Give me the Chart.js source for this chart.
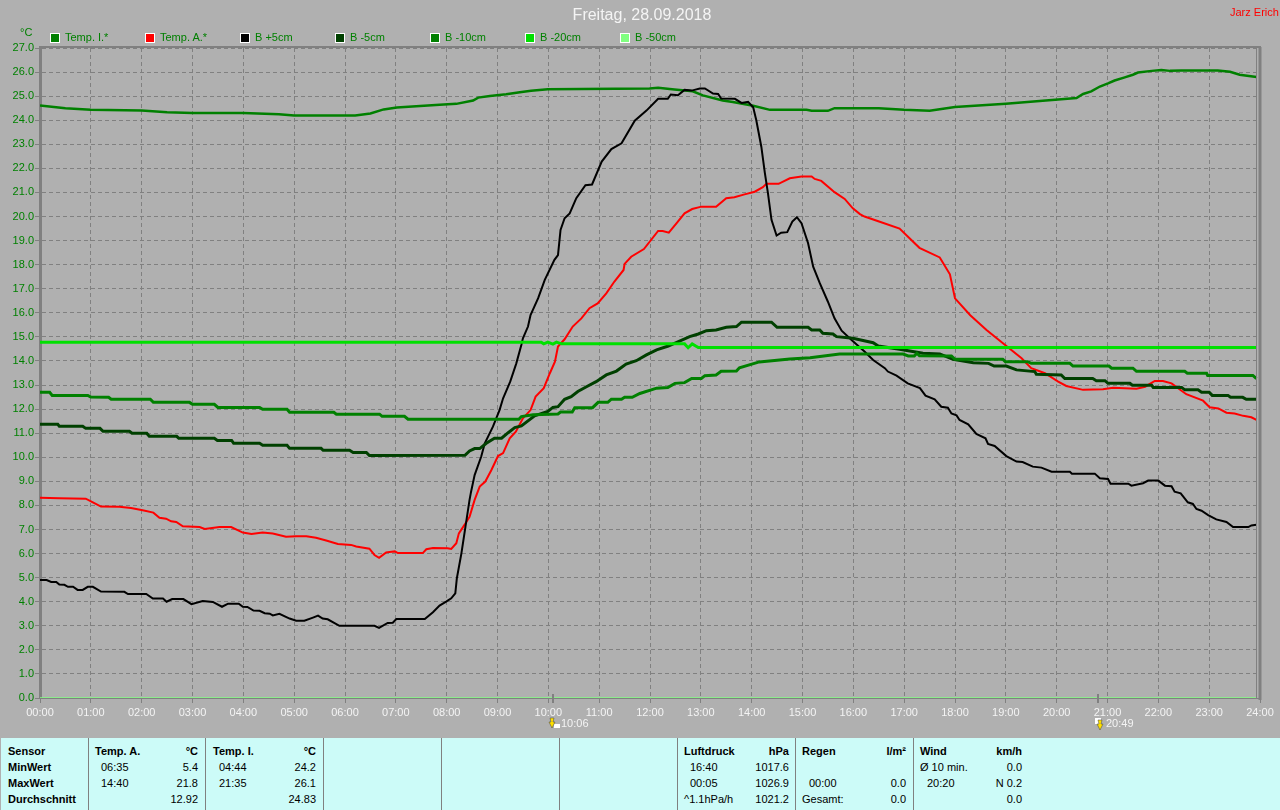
<!DOCTYPE html>
<html lang="de">
<head>
<meta charset="UTF-8">
<title>Freitag, 28.09.2018</title>
<script src="https://cdn.jsdelivr.net/npm/chart.js"></script>
<style>
  body { margin: 0; width: 1280px; height: 810px; overflow: hidden; background: #b0b0b0; font: 11px "Liberation Sans", Arial, sans-serif; position: relative; }
  #wrap { position: absolute; left: 0; top: 0; width: 1280px; height: 738px; }
  .abs { position: absolute; white-space: nowrap; }
  #title { left: 0; width: 1284px; top: 6px; text-align: center; font-size: 16px; color: #f4f4f4; }
  #author { left: 1230px; top: 6px; color: #ff0000; }
  #unit { left: 20px; top: 26px; color: #008000; }
  .swatch { position: absolute; top: 33px; width: 8px; height: 8px; border: 1px solid #fff; }
  .legend { position: absolute; top: 31px; color: #008000; }
  #panel { position: absolute; left: 1px; top: 738px; width: 1279px; height: 72px; background: #ccfbf8; }
  .sep { position: absolute; top: 0; height: 72px; width: 1px; background: #808080; }
  .cell { position: absolute; white-space: nowrap; color: #000; }
  .head { font-weight: bold; }
</style>
</head>
<body>
<div id="wrap"><canvas id="grafico" width="1280" height="738"></canvas></div>
<div class="abs" id="title">Freitag, 28.09.2018</div>
<div class="abs" id="author">Jarz Erich</div>
<div class="abs" id="unit">°C</div>
<div id="legend"></div>
<div id="panel"></div>

<script>
// hours of the day and readings
const tempITimes = [0,0.5,1,2,2.5,3,4,4.7,5,6.2,6.5,6.76,7.02,7.86,8.19,8.52,8.62,8.85,9.17,9.44,9.66,9.99,11.99,12.16,12.48,12.84,13.04,13.43,13.63,14.03,14.36,15.08,15.18,15.5,15.63,16.13,16.5,17,17.5,18,19,20.09,20.39,20.52,20.68,20.85,21.01,21.14,21.34,21.5,21.6,21.87,22.06,22.23,22.45,23.17,23.41,23.6,23.93];
const tempIValues = [24.61,24.5,24.43,24.4,24.33,24.3,24.3,24.25,24.2,24.2,24.28,24.45,24.53,24.64,24.68,24.82,24.94,25.01,25.08,25.16,25.22,25.29,25.32,25.35,25.28,25.2,25.03,24.82,24.76,24.6,24.43,24.43,24.39,24.39,24.5,24.5,24.5,24.43,24.39,24.55,24.68,24.87,24.92,25.09,25.2,25.4,25.53,25.65,25.78,25.89,25.98,26.05,26.09,26.05,26.07,26.07,26.01,25.89,25.8];

const tempATimes = [0,0.38,0.9,1.04,1.2,1.56,1.79,2.02,2.23,2.35,2.48,2.58,2.68,2.81,3.14,3.24,3.53,3.76,3.99,4.16,4.38,4.58,4.84,5.04,5.24,5.43,5.63,5.86,6.12,6.22,6.48,6.58,6.67,6.81,6.98,7.04,7.53,7.6,7.73,8.02,8.09,8.19,8.24,8.35,8.45,8.55,8.65,8.76,8.88,9.01,9.11,9.24,9.36,9.5,9.65,9.75,9.91,10.03,10.13,10.19,10.32,10.48,10.65,10.81,10.97,11.14,11.3,11.48,11.5,11.63,11.88,12.16,12.25,12.37,12.52,12.68,12.83,13.01,13.3,13.5,13.66,13.86,14.06,14.22,14.29,14.53,14.75,14.98,15.18,15.24,15.37,15.63,15.83,15.99,16.13,16.22,16.52,16.91,17.3,17.7,17.9,18,18.3,18.62,18.98,19.31,19.5,19.77,20.03,20.19,20.52,20.91,21.11,21.57,21.74,21.93,22.09,22.26,22.55,22.88,23.01,23.18,23.34,23.5,23.67,23.83,23.93];
const tempAValues = [8.32,8.3,8.28,8.13,7.95,7.94,7.89,7.8,7.7,7.49,7.45,7.34,7.31,7.13,7.1,7.02,7.1,7.1,6.87,6.81,6.87,6.83,6.7,6.72,6.72,6.66,6.54,6.4,6.36,6.29,6.2,5.94,5.82,6.05,6.09,6.02,6.02,6.18,6.23,6.22,6.19,6.43,6.84,7.19,7.53,8.23,8.78,8.99,9.47,10.05,10.17,10.79,11.06,11.62,11.96,12.52,12.87,13.49,13.97,14.6,14.9,15.43,15.77,16.19,16.39,16.81,17.3,17.78,18.03,18.33,18.65,19.4,19.4,19.33,19.72,20.13,20.31,20.41,20.41,20.76,20.8,20.92,21.03,21.22,21.36,21.36,21.59,21.66,21.66,21.56,21.48,21.01,20.73,20.34,20.1,20,19.78,19.5,18.7,18.3,17.6,16.6,15.9,15.29,14.67,14.11,13.7,13.49,13.14,12.96,12.8,12.83,12.89,12.85,12.93,13.17,13.17,13.07,12.62,12.35,12.08,12.03,11.85,11.82,11.72,11.66,11.55];

const plus5Times = [0,0.13,0.22,0.32,0.38,0.48,0.55,0.65,0.74,0.84,0.94,1.04,1.2,1.66,1.73,2.09,2.22,2.42,2.49,2.6,2.82,2.98,3.2,3.4,3.58,3.7,3.91,3.99,4.08,4.2,4.32,4.42,4.52,4.58,4.71,4.91,5.04,5.2,5.37,5.47,5.56,5.66,5.89,6.58,6.67,6.84,6.94,7.01,7.57,7.73,7.86,7.99,8.09,8.17,8.2,8.29,8.37,8.45,8.48,8.55,8.68,8.75,8.91,9.04,9.11,9.25,9.37,9.47,9.5,9.6,9.65,9.8,9.93,10.12,10.19,10.24,10.32,10.42,10.55,10.73,10.86,11.05,11.24,11.44,11.7,11.93,12.16,12.35,12.41,12.55,12.68,12.82,12.98,13.08,13.24,13.34,13.4,13.67,13.8,13.93,14.03,14.09,14.19,14.26,14.32,14.39,14.49,14.58,14.7,14.8,14.89,14.98,15.11,15.21,15.34,15.5,15.63,15.77,15.96,16.22,16.39,16.62,16.68,16.85,17.07,17.31,17.42,17.6,17.73,17.86,17.93,18.03,18.09,18.26,18.42,18.6,18.65,18.78,19.01,19.21,19.33,19.53,19.7,19.9,20.26,20.3,20.75,20.85,21.01,21.06,21.41,21.47,21.7,21.8,22,22.13,22.26,22.32,22.44,22.58,22.68,22.75,22.85,22.98,23.14,23.34,23.47,23.77,23.83,23.93];
const plus5Values = [4.9,4.9,4.82,4.82,4.71,4.7,4.62,4.62,4.49,4.49,4.62,4.62,4.42,4.41,4.32,4.32,4.13,4.13,4,4.11,4.11,3.9,4.03,3.99,3.79,3.92,3.92,3.79,3.78,3.63,3.62,3.52,3.5,3.43,3.5,3.3,3.21,3.21,3.34,3.42,3.3,3.27,3,3,2.91,3.12,3.13,3.28,3.28,3.56,3.84,4,4.14,4.35,4.97,6.01,7.12,8.23,8.57,9.26,10.03,10.58,11.27,11.96,12.45,13.14,13.9,14.67,14.94,15.43,15.91,16.61,17.37,18.2,18.4,19.44,19.93,20.13,20.76,21.3,21.33,22.28,22.8,23.04,23.98,24.4,24.89,24.89,25.07,25.04,25.26,25.23,25.32,25.32,25.11,25.09,24.9,24.89,24.72,24.76,24.54,24.01,22.9,21.8,20.97,19.86,19.21,19.33,19.35,19.79,19.97,19.72,18.89,17.92,17.23,16.46,15.77,15.26,14.88,14.39,14.04,13.7,13.56,13.39,13.07,12.87,12.56,12.41,12.1,12.06,11.82,11.74,11.55,11.37,10.97,10.79,10.55,10.47,10.05,9.82,9.8,9.61,9.57,9.4,9.4,9.32,9.32,9.13,9.1,8.9,8.9,8.82,8.92,9.03,9.03,8.82,8.8,8.57,8.5,8.13,8.06,7.85,7.78,7.6,7.42,7.31,7.1,7.1,7.17,7.2];

const minus5Times = [0,0.35,0.38,0.84,0.9,1.18,1.24,1.76,1.81,2.1,2.15,2.69,2.73,3.43,3.49,3.77,3.81,4.32,4.38,4.86,4.91,5.53,5.57,6.09,6.16,6.42,6.48,8.36,8.45,8.55,8.65,8.78,8.94,9.08,9.21,9.34,9.47,9.73,9.99,10.09,10.19,10.32,10.45,10.58,10.75,10.94,11.14,11.34,11.53,11.73,11.93,12.13,12.36,12.78,12.95,13.11,13.3,13.5,13.7,13.8,14.39,14.5,15.11,15.18,15.34,15.4,15.6,15.67,15.99,16.39,16.49,16.91,17.37,17.7,17.96,18.36,18.66,18.77,19.01,19.21,19.57,19.6,20.09,20.16,20.71,20.78,20.95,21.01,21.44,21.49,21.87,21.9,22.46,22.52,22.78,22.85,23,23.06,23.37,23.42,23.66,23.73,23.93];
const minus5Values = [11.37,11.37,11.29,11.29,11.2,11.2,11.08,11.08,11,11,10.87,10.87,10.79,10.79,10.7,10.7,10.58,10.58,10.5,10.5,10.37,10.37,10.29,10.29,10.2,10.2,10.07,10.08,10.26,10.36,10.36,10.58,10.79,10.79,11.02,11.23,11.3,11.72,11.9,12.07,12.1,12.41,12.52,12.73,12.93,13.14,13.42,13.58,13.87,14.01,14.25,14.46,14.62,15.01,15.12,15.26,15.29,15.4,15.43,15.61,15.61,15.4,15.4,15.29,15.29,15.15,15.12,15.01,14.94,14.76,14.62,14.49,14.32,14.29,14.07,13.93,13.9,13.79,13.79,13.63,13.56,13.45,13.42,13.27,13.27,13.18,13.18,13.07,13.07,12.99,12.99,12.9,12.9,12.8,12.8,12.7,12.7,12.57,12.57,12.49,12.49,12.41,12.41];

const minus10Times = [0,0.19,0.24,0.94,1,1.35,1.4,2.17,2.23,2.94,3,3.43,3.5,4.32,4.38,4.86,4.91,5.78,5.83,6.68,6.73,7.17,7.24,9.42,9.47,9.7,10.19,10.24,10.47,10.52,10.87,10.98,11.17,11.24,11.44,11.5,11.65,11.8,12.13,12.35,12.49,12.68,12.82,13.01,13.08,13.3,13.4,13.7,13.76,14.15,14.75,15.15,15.73,16.98,17.08,17.2,17.25,17.3,17.93,18,18.94,18.99,19.43,19.5,20.26,20.32,21.03,21.08,21.5,21.57,22.52,22.57,22.95,22.97,23.86,23.93];
const minus10Values = [12.7,12.7,12.57,12.57,12.5,12.49,12.41,12.41,12.28,12.28,12.2,12.2,12.07,12.07,11.99,11.99,11.87,11.87,11.79,11.79,11.7,11.7,11.58,11.58,11.69,11.77,11.8,11.88,11.88,12.06,12.06,12.28,12.28,12.41,12.41,12.49,12.49,12.65,12.87,12.9,13.07,13.1,13.27,13.27,13.39,13.42,13.57,13.58,13.72,13.96,14.08,14.13,14.29,14.29,14.21,14.21,14.32,14.22,14.21,14.07,14.07,13.97,13.97,13.9,13.9,13.79,13.79,13.7,13.7,13.57,13.57,13.49,13.49,13.4,13.4,13.27];

const minus20Times = [0,9.86,9.91,9.99,10.09,10.16,10.26,12.68,12.75,12.83,12.95,23.93];
const minus20Values = [14.78,14.78,14.71,14.78,14.7,14.78,14.71,14.71,14.55,14.71,14.56,14.56];

const minus50Times = [0,23.93];
const minus50Values = [0,0];

const seriesNames = ['Temp. I.*','Temp. A.*','B +5cm','B -5cm','B -10cm','B -20cm','B -50cm'];
const seriesColors = ['#008000','#ff0000','#000000','#004000','#008000','#00e000','#80ff80'];
const seriesTimes = [tempITimes,tempATimes,plus5Times,minus5Times,minus10Times,minus20Times,minus50Times];
const seriesValues = [tempIValues,tempAValues,plus5Values,minus5Values,minus10Values,minus20Values,minus50Values];
const seriesWidths = [2.5,2,2,3,3,3,1.5];

// sunrise / sunset marks below the time axis
const sunTimes = [10.1,20.82];
const sunLabels = ['10:06','20:49'];

// bottom panel
const sensorLabels = ['Sensor','MinWert','MaxWert','Durchschnitt'];
const tempAStats = [['Temp. A.','°C'],['06:35','5.4'],['14:40','21.8'],['','12.92']];
const tempIStats = [['Temp. I.','°C'],['04:44','24.2'],['21:35','26.1'],['','24.83']];
const druckStats = [['Luftdruck','hPa'],['16:40','1017.6'],['00:05','1026.9'],['^1.1hPa/h','1021.2']];
const regenStats = [['Regen','l/m²'],['',''],['00:00','0.0'],['Gesamt:','0.0']];
const windStats = [['Wind','km/h'],['Ø 10 min.','0.0'],['20:20','N 0.2'],['','0.0']];
const panelSeps = [88,205,323,441,559,677,795,913];

// legend
var legend = document.getElementById('legend');
seriesNames.forEach(function(name, i) {
  var x = 50 + i * 95;
  var s = document.createElement('div');
  s.className = 'swatch';
  s.style.left = x + 'px';
  s.style.background = seriesColors[i];
  legend.appendChild(s);
  var t = document.createElement('div');
  t.className = 'legend';
  t.style.left = (x + 15) + 'px';
  t.textContent = name;
  legend.appendChild(t);
});

// panel
var panel = document.getElementById('panel');
function cell(text, x, row, right, bold) {
  var d = document.createElement('div');
  d.className = 'cell' + (bold ? ' head' : '');
  d.style.top = (7 + row * 16) + 'px';
  if (right) d.style.right = (1279 - x) + 'px';
  else d.style.left = x + 'px';
  d.textContent = text;
  panel.appendChild(d);
}
function statsCol(rows, left, right, indent) {
  rows.forEach(function(r, i) {
    var plain = r[0].indexOf(':') < 0 || r[0] == 'Gesamt:';
    var x = i == 0 || plain ? left : left + indent;
    cell(r[0], x, i, false, i == 0);
    cell(r[1], right, i, true, i == 0);
  });
}
panelSeps.forEach(function(x) {
  var d = document.createElement('div');
  d.className = 'sep';
  d.style.left = (x - 1) + 'px';
  panel.appendChild(d);
});
sensorLabels.forEach(function(t, i) { cell(t, 7, i, false, true); });
statsCol(tempAStats, 94, 197, 6);
statsCol(tempIStats, 212, 315, 6);
statsCol(druckStats, 683, 788, 6);
statsCol(regenStats, 801, 905, 7);
statsCol(windStats, 919, 1021, 7);

// frame and sun marks, the axis lines of the scales only cover left and bottom
const framePlugin = {
  id: 'frame',
  afterDatasetsDraw(chart) {
    var c = chart.ctx, a = chart.chartArea, x = chart.scales.x;
    c.save();
    c.strokeStyle = '#808080';
    c.lineWidth = 2;
    c.beginPath(); c.moveTo(a.left - 1, a.top - 1); c.lineTo(a.right + 1, a.top - 1); c.stroke();
    c.lineWidth = 3;
    c.beginPath(); c.moveTo(a.right, a.top - 1); c.lineTo(a.right, a.bottom + 2); c.stroke();
    c.lineWidth = 1;
    var end = Math.round(x.getPixelForValue(23.93)) + 0.5;
    c.beginPath(); c.moveTo(end, a.top); c.lineTo(end, a.bottom); c.stroke();
    sunTimes.forEach(function(t, i) {
      var p = Math.round(x.getPixelForValue(t));
      var ax = i == 0 ? p - 1 : p + 2;
      var ay = i == 0 ? 0 : 2;
      c.fillStyle = '#808080';
      c.fillRect(p - 1, a.bottom - 4, 2, 9);
      // small white cloud
      c.fillStyle = '#ffffff';
      if (i == 0) c.fillRect(p + 1, 724, 6, 4);
      else c.fillRect(p - 3, 718, 6, 6);
      // yellow arrow
      c.fillStyle = '#ffe000';
      c.strokeStyle = '#404040';
      c.lineWidth = 0.5;
      c.beginPath();
      c.moveTo(ax - 2, 718 + ay); c.lineTo(ax + 2, 718 + ay); c.lineTo(ax + 1, 722 + ay); c.lineTo(ax + 3, 722 + ay);
      c.lineTo(ax, 728 + ay); c.lineTo(ax - 3, 722 + ay); c.lineTo(ax - 1, 722 + ay);
      c.closePath(); c.fill(); c.stroke();
      c.fillStyle = '#f4f4f4';
      c.font = '11px "Liberation Sans"';
      c.textAlign = 'left';
      c.textBaseline = 'middle';
      c.fillText(sunLabels[i], p + 8, 724);
    });
    c.restore();
  }
};

new Chart(document.getElementById('grafico'), {
  type: 'line',
  plugins: [framePlugin],
  data: {
    datasets: seriesNames.map(function(name, i) {
      return {
        label: name,
        data: seriesTimes[i].map(function(t, k) { return { x: t, y: seriesValues[i][k] }; }),
        borderColor: seriesColors[i],
        backgroundColor: seriesColors[i],
        borderWidth: seriesWidths[i],
        pointRadius: 0,
        tension: 0,
        order: seriesNames.length - i
      };
    })
  },
  options: {
    responsive: false,
    animation: false,
    events: [],
    layout: { padding: { left: 0, top: 48, right: 20, bottom: 0 } },
    plugins: { legend: { display: false }, title: { display: false }, tooltip: { enabled: false } },
    scales: {
      x: {
        type: 'linear',
        min: 0,
        max: 24,
        afterFit: function(s) { s.height = 40; },
        border: { color: '#808080', width: 1, dash: [4, 3] },
        grid: { color: '#808080', tickColor: '#808080', tickLength: 5, tickBorderDash: [] },
        ticks: {
          stepSize: 1,
          autoSkip: false,
          maxRotation: 0,
          padding: 3,
          color: '#f4f4f4',
          font: { family: 'Liberation Sans', size: 11 },
          callback: function(v) { return (v < 10 ? '0' : '') + v + ':00'; }
        }
      },
      y: {
        min: 0,
        max: 27,
        afterFit: function(s) { s.width = 40; },
        border: { color: '#808080', width: 3, dash: [4, 3] },
        grid: { color: '#808080', tickColor: '#808080', tickLength: 5, tickBorderDash: [] },
        ticks: {
          stepSize: 1,
          autoSkip: false,
          padding: 1,
          color: '#008000',
          font: { family: 'Liberation Sans', size: 11 },
          callback: function(v) { return v.toFixed(1); }
        }
      }
    }
  }
});
</script>
</body>
</html>
